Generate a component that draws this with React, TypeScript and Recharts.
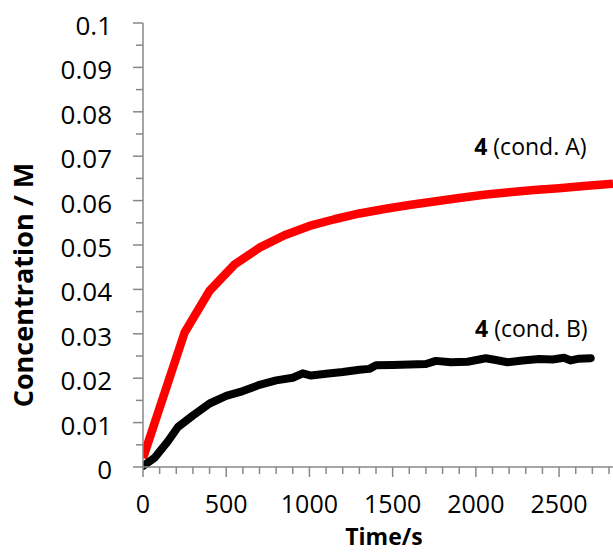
import { LineChart, Line, XAxis, YAxis, ReferenceDot, Label } from "recharts";

// cond. A (red)
const timeA = [0, 250, 400, 550, 700, 850, 1000, 1150, 1300, 1450, 1600, 1750, 1900, 2050, 2200, 2350, 2500, 2650, 2824];
const concA = [0.002, 0.0303, 0.0397, 0.0456, 0.0494, 0.0522, 0.0543, 0.0558, 0.0571, 0.0581, 0.059, 0.0598, 0.0606, 0.0613, 0.0619, 0.0624, 0.0628, 0.0633, 0.0638];

// cond. B (black)
const timeB = [0, 70, 150, 210, 300, 400, 500, 600, 700, 800, 900, 960, 1010, 1100, 1200, 1300, 1360, 1400, 1500, 1600, 1700, 1760, 1850, 1950, 2060, 2120, 2190, 2280, 2380, 2460, 2530, 2570, 2620, 2690];
const concB = [0.0002, 0.0021, 0.0058, 0.009, 0.0116, 0.0143, 0.016, 0.0171, 0.0185, 0.0195, 0.0201, 0.0211, 0.0206, 0.021, 0.0214, 0.0219, 0.0221, 0.0229, 0.023, 0.0231, 0.0232, 0.0239, 0.0236, 0.0237, 0.0245, 0.0241, 0.0236, 0.024, 0.0243, 0.0242, 0.0246, 0.024, 0.0244, 0.0245];

const yTicks = [0, 0.005, 0.01, 0.015, 0.02, 0.025, 0.03, 0.035, 0.04, 0.045, 0.05, 0.055, 0.06, 0.065, 0.07, 0.075, 0.08, 0.085, 0.09, 0.095, 0.1];
const xTicks = [0, 100, 200, 300, 400, 500, 600, 700, 800, 900, 1000, 1100, 1200, 1300, 1400, 1500, 1600, 1700, 1800, 1900, 2000, 2100, 2200, 2300, 2400, 2500, 2600, 2700, 2800];

const seriesA = timeA.map((t, i) => ({ t, c: concA[i] }));
const seriesB = timeB.map((t, i) => ({ t, c: concB[i] }));

const FONT = "'Open Sans', sans-serif";
const AXIS = "#888888";

function YTick({ x, y, payload }: any) {
  const v = payload.value as number;
  const major = Math.round(v * 1000) % 10 === 0;
  return (
    <g>
      <line x1={x - (major ? 10 : 7)} x2={x} y1={y} y2={y} stroke={AXIS} strokeWidth={1.5} />
      {major && (
        <text x={x - 31} y={y} dy={12} textAnchor="end" fontFamily={FONT} fontSize={26} fill="#000">
          {String(Number(v.toFixed(2)))}
        </text>
      )}
    </g>
  );
}

function XTick({ x, y, payload }: any) {
  const v = payload.value as number;
  const major = v % 500 === 0;
  return (
    <g>
      <line x1={x} x2={x} y1={y} y2={y + (major ? 10 : 7)} stroke={AXIS} strokeWidth={1.5} />
      {major && (
        <text x={x} y={y} dy={46} textAnchor="middle" fontFamily={FONT} fontSize={25} fill="#000">
          {v}
        </text>
      )}
    </g>
  );
}

function note(cond: string) {
  return (p: any) => (
    <text x={p.cx} y={p.cy} fontFamily={FONT} fontSize={23} fill="#000">
      <tspan fontWeight="bold">4</tspan> ({cond})
    </text>
  );
}

export default function App() {
  return (
    <div style={{ position: "absolute", left: 0, top: 0, background: "#fff" }}>
      <LineChart width={613} height={553} margin={{ top: 23, right: 0, bottom: 0, left: 0 }}>
        <XAxis
          type="number"
          dataKey="t"
          domain={[0, 2824]}
          ticks={xTicks}
          interval={0}
          allowDataOverflow
          height={86}
          tickSize={0}
          tickMargin={0}
          tickLine={false}
          tick={<XTick />}
          axisLine={{ stroke: AXIS, strokeWidth: 1.5 }}
        >
          <Label
            content={() => (
              <text x={384} y={545} textAnchor="middle" fontFamily={FONT} fontWeight="bold" fontSize={23} fill="#000">
                Time/s
              </text>
            )}
          />
        </XAxis>
        <YAxis
          type="number"
          dataKey="c"
          domain={[0, 0.1]}
          ticks={yTicks}
          interval={0}
          width={143}
          tickSize={0}
          tickMargin={0}
          tickLine={false}
          tick={<YTick />}
          axisLine={{ stroke: AXIS, strokeWidth: 1.5 }}
        >
          <Label
            content={() => (
              <text
                x={24}
                y={285}
                transform="rotate(-90 24 285)"
                dy={9}
                textAnchor="middle"
                fontFamily={FONT}
                fontWeight="bold"
                fontSize={27}
                fill="#000"
              >
                Concentration / M
              </text>
            )}
          />
        </YAxis>
        <Line
          data={seriesA}
          dataKey="c"
          type="linear"
          stroke="#ff0000"
          strokeWidth={8.5}
          strokeLinejoin="round"
          dot={false}
          isAnimationActive={false}
        />
        <Line
          data={seriesB}
          dataKey="c"
          type="linear"
          stroke="#000000"
          strokeWidth={8}
          strokeLinejoin="round"
          strokeLinecap="round"
          dot={false}
          isAnimationActive={false}
        />
        <ReferenceDot x={1990} y={0.0703} r={0} shape={note("cond. A")} />
        <ReferenceDot x={1995} y={0.0292} r={0} shape={note("cond. B")} />
      </LineChart>
    </div>
  );
}
